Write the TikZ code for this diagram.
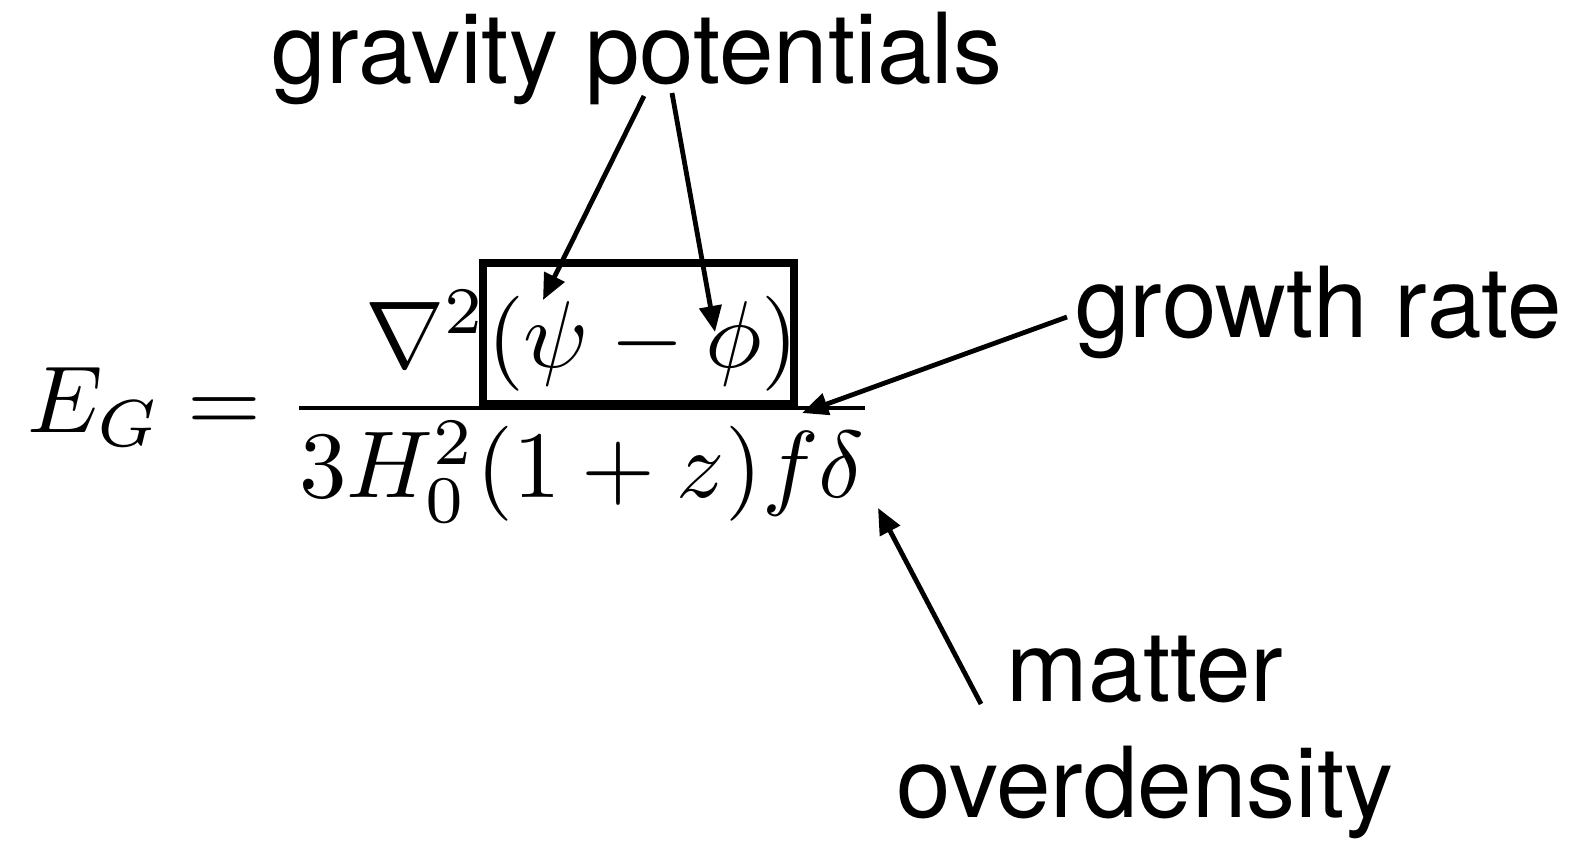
\documentclass[tikz,border=0pt]{standalone}
\usepackage[no-math]{fontspec}
\usepackage{graphicx}
\newfontfamily\labfont{TeX Gyre Heros}
\usetikzlibrary{arrows.meta}
\begin{document}
\begin{tikzpicture}[x=0.5pt,y=-0.5pt,
  lab/.style={font=\labfont\fontsize{49}{58}\selectfont, inner sep=0},
  arr/.style={line width=2.4pt,-{Triangle[length=13pt,width=11pt]}},
  boxline/.style={line width=4pt}
  ]
\useasboundingbox (0,0) rectangle (1578,845);
\node[anchor=base west, inner sep=0, font=\fontsize{10}{12}\selectfont] (eq) at (27,432)
  {\scalebox{4.75}{$\displaystyle E_G = \frac{\nabla^2(\psi-\phi)}{3H_0^2(1+z)f\delta}$}};
\draw[boxline] (483,263) rectangle (794,404);
\node[lab, anchor=base] (gp) at (637,84) {gravity potentials};
\node[lab, anchor=base west] (gr) at (1075,337) {growth rate};
\node[lab, anchor=base, align=center] (md) at (1145,817) {matter\\overdensity};
\coordinate (psi) at (543,300);
\coordinate (phi) at (715,332);
\coordinate (f) at (802,413);
\coordinate (delta) at (878,508);
\coordinate (gps1) at (644,96);
\coordinate (gps2) at (672,93);
\coordinate (grs) at (1067,317);
\coordinate (mds) at (981,704);
\draw[arr] (gps1) -- (psi);
\draw[arr] (gps2) -- (phi);
\draw[arr] (grs) -- (f);
\draw[arr] (mds) -- (delta);
\end{tikzpicture}
\end{document}
